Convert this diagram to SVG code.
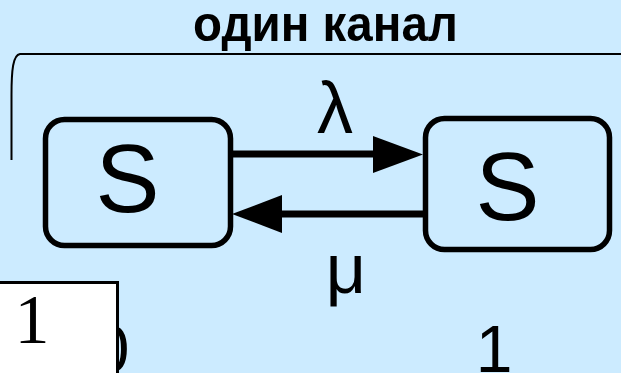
<svg xmlns="http://www.w3.org/2000/svg" width="621" height="373" viewBox="0 0 621 373">
<style>
.box{fill:none;stroke:#000;stroke-width:5.5}
.conn{stroke:#000;stroke-width:7;fill:none}
.t{font-family:"Liberation Sans",Arial,sans-serif;fill:#000}
</style>
<rect x="0" y="0" width="621" height="373" fill="#CCEBFF"/>
<path d="M11.5,160 L11.5,95 C11.5,70 13,55 20,54 L621,54" fill="none" stroke="#000" stroke-width="2"/>
<text class="t" x="325.5" y="41" text-anchor="middle" font-size="50" font-weight="bold" textLength="265" lengthAdjust="spacingAndGlyphs">один канал</text>
<g id="node-left">
<rect class="box" x="45.5" y="119.5" width="185" height="126" rx="19"/>
<text class="t" x="127.5" y="212" text-anchor="middle" font-size="96">S</text>
</g>
<g id="node-right">
<rect class="box" x="425.5" y="118.5" width="184" height="131" rx="19"/>
<text class="t" x="507.5" y="220" text-anchor="middle" font-size="96">S</text>
</g>
<g id="connectors">
<line class="conn" x1="231" y1="154" x2="378" y2="154"/>
<polygon points="373,136 423,154.5 373,173"/>
<line class="conn" x1="277" y1="214" x2="423" y2="214"/>
<polygon points="282,195 232,214 282,233"/>
</g>
<text class="t" x="335" y="133" text-anchor="middle" font-size="72">λ</text>
<text class="t" x="346" y="293" text-anchor="middle" font-size="70">μ</text>
<text class="t" x="494" y="372" text-anchor="middle" font-size="66">1</text>
<text class="t" x="111" y="372" text-anchor="middle" font-size="66">0</text>
<rect x="-5" y="282.5" width="122.5" height="100" fill="#fff" stroke="#000" stroke-width="3"/>
<text x="32" y="343" text-anchor="middle" font-family="'Liberation Serif','Times New Roman',serif" font-size="70" fill="#000">1</text>
</svg>
